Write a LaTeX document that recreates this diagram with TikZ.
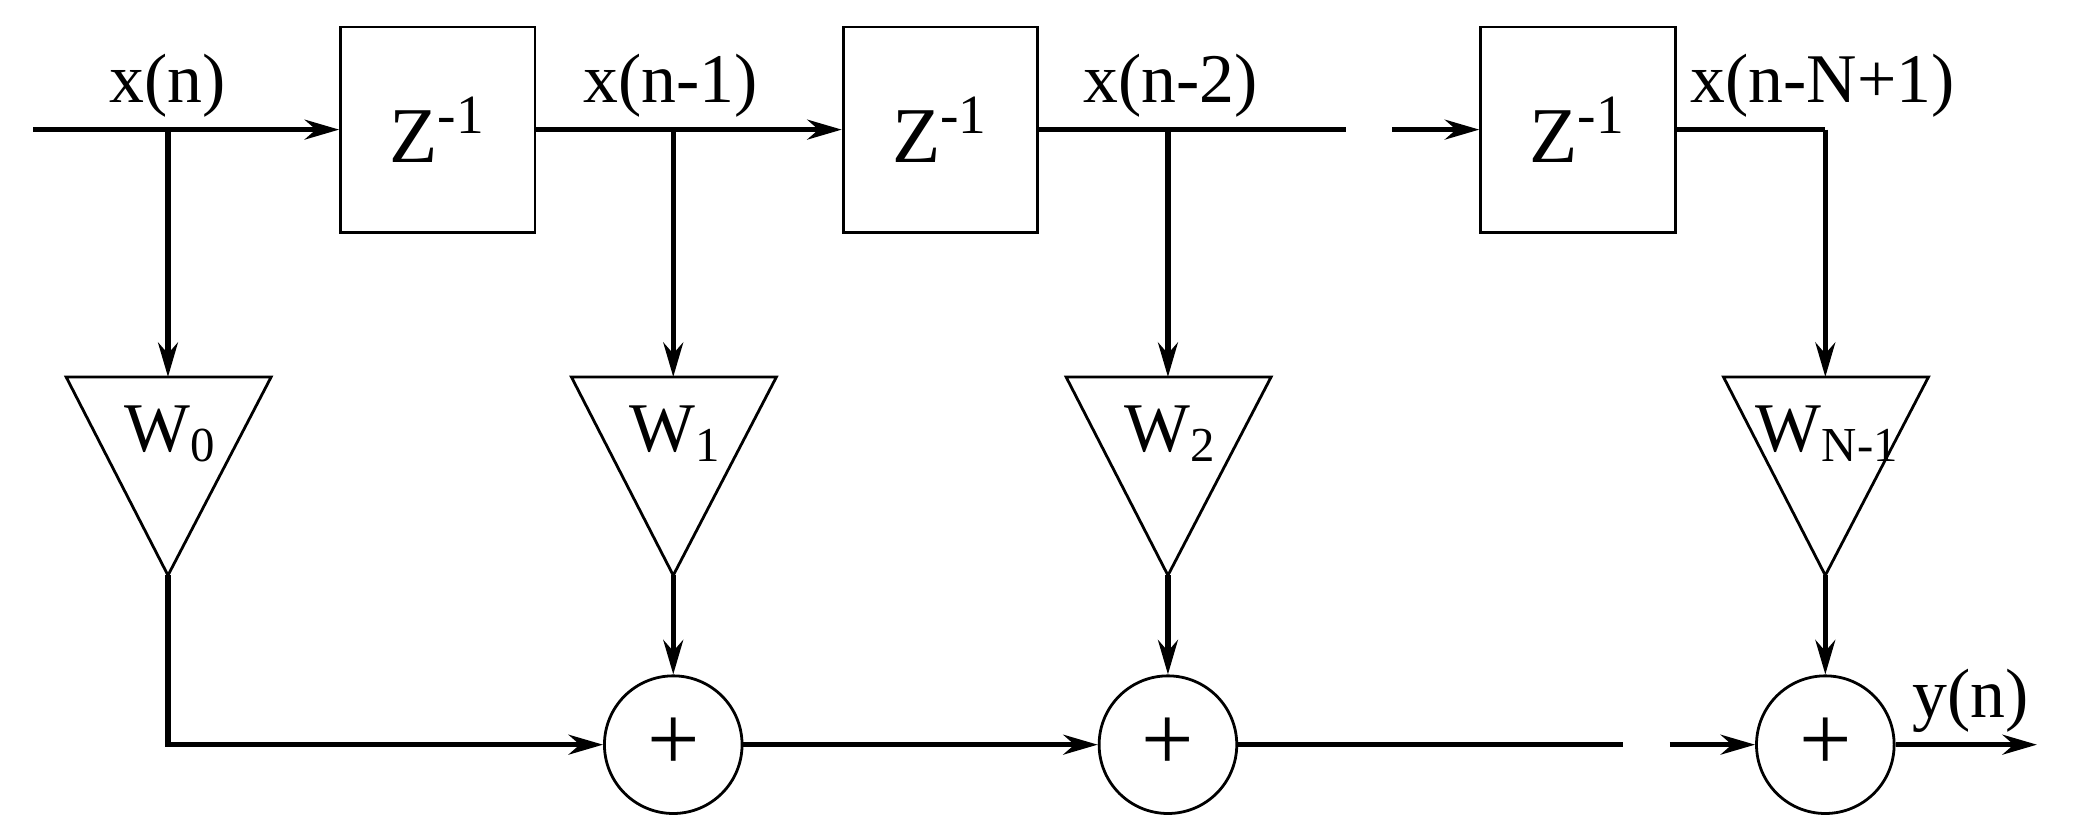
\documentclass[tikz,border=0pt]{standalone}
\usepackage{fontspec}
\setmainfont{Liberation Serif}
\usetikzlibrary{arrows.meta, calc}
\begin{document}
\begin{tikzpicture}[x=0.01cm,y=-0.01cm]
    \tikzset{DelayStyle/.style = {draw, line width=0.6pt, minimum width=1.47cm, minimum height=1.55cm, inner sep=0, font=\fontsize{17}{20}\selectfont},
             SumStyle/.style = {draw, line width=0.6pt, circle, minimum size=1.04cm, inner sep=0, font=\fontsize{20}{22}\selectfont},
             LabelStyle/.style = {font=\fontsize{15}{18}\selectfont, inner sep=0},
             WireStyle/.style = {line width=1.1pt, -{Stealth[length=2.6mm,width=1.5mm]}},
             TriStyle/.style = {line width=0.6pt}}
    \useasboundingbox (0,0) rectangle (1568,634);

    \node[DelayStyle] at (331,98) (z1) {Z\textsuperscript{-1}};
    \node[DelayStyle] at (711,98) (z2) {Z\textsuperscript{-1}};
    \node[DelayStyle] at (1193,98) (z3) {Z\textsuperscript{-1}};

    \node[SumStyle] at (509,563) (s1) {+};
    \node[SumStyle] at (883,563) (s2) {+};
    \node[SumStyle] at (1380,563) (s3) {+};

    \coordinate (in) at (25,98);
    \coordinate (p0) at (127,98);
    \coordinate (p1) at (509,98);
    \coordinate (p2) at (883,98);
    \coordinate (p3) at (1380,98);
    \coordinate (d2) at (940,98);
    \coordinate (d3) at (1150,563);
    \coordinate (out) at (1540,563);
    \coordinate (b0) at (127,563);

    % weights
    \draw[TriStyle] (50,285) -- (205,285) -- (127,435) -- cycle;
    \draw[TriStyle] (432,285) -- (587,285) -- (509,435) -- cycle;
    \draw[TriStyle] (806,285) -- (961,285) -- (883,435) -- cycle;
    \draw[TriStyle] (1303,285) -- (1458,285) -- (1380,435) -- cycle;
    \coordinate (w0t) at (127,285); \coordinate (w0b) at (127,435);
    \coordinate (w1t) at (509,285); \coordinate (w1b) at (509,435);
    \coordinate (w2t) at (883,285); \coordinate (w2b) at (883,435);
    \coordinate (w3t) at (1380,285); \coordinate (w3b) at (1380,435);
    \node[LabelStyle] at (129,328) (w0) {W\textsubscript{0}};
    \node[LabelStyle] at (511,328) (w1) {W\textsubscript{1}};
    \node[LabelStyle] at (885,328) (w2) {W\textsubscript{2}};
    \node[LabelStyle] at (1382,328) (w3) {W\textsubscript{N-1}};

    \node[LabelStyle] at (127,65) (l0) {x(n)};
    \node[LabelStyle] at (507,65) (l1) {x(n-1)};
    \node[LabelStyle] at (885,65) (l2) {x(n-2)};
    \node[LabelStyle] at (1378,65) (l3) {x(n-N+1)};
    \node[LabelStyle] at (1490,530) (ly) {y(n)};

    \draw[WireStyle] (in) -- (z1);
    \draw[WireStyle] (z1) -- (z2);
    \draw[line width=1.1pt] (z2) -- (d2);
    \draw[WireStyle, dashed, dash pattern=on 22pt off 10pt] (d2) -- (z3);
    \draw[line width=1.1pt] (z3.east) -- (p3);

    \draw[WireStyle] (p0) -- (w0t);
    \draw[WireStyle] (p1) -- (w1t);
    \draw[WireStyle] (p2) -- (w2t);
    \draw[WireStyle] (p3) -- (w3t);

    \draw[WireStyle] (w1b) -- (s1);
    \draw[WireStyle] (w2b) -- (s2);
    \draw[WireStyle] (w3b) -- (s3);

    \draw[WireStyle] (w0b) -- (b0) -- (s1);
    \draw[WireStyle] (s1) -- (s2);
    \draw[line width=1.1pt] (s2) -- (d3);
    \draw[WireStyle, dashed, dash pattern=on 22pt off 10pt] (d3) -- (s3);
    \draw[WireStyle] (s3) -- (out);
\end{tikzpicture}
\end{document}
